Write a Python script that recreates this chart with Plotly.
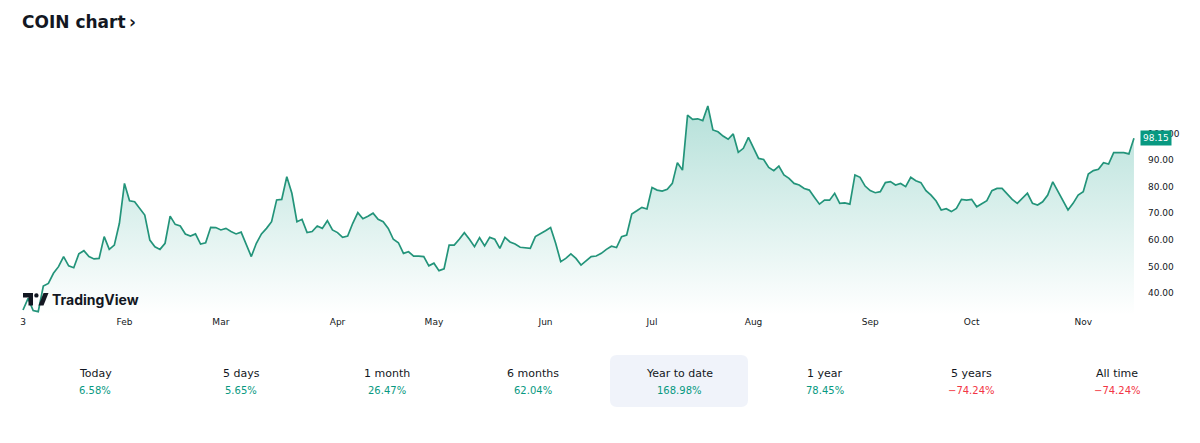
import pandas as pd
import plotly.graph_objects as go

# ---------------- data ----------------
holidays = ["2023-01-16", "2023-02-20", "2023-04-07", "2023-05-29",
            "2023-06-19", "2023-07-04", "2023-09-04"]
dates = [d.strftime("%Y-%m-%d") for d in pd.bdate_range("2023-01-03", "2023-11-15")
         if d.strftime("%Y-%m-%d") not in holidays]

close = [
    33.6, 38.0, 33.4, 33.0,
    42.6, 43.6, 47.4, 49.9, 53.7, 50.2, 49.5, 54.7, 55.9, 53.7,
    52.8, 53.0, 61.2, 56.4, 58.0, 66.2, 81.2, 74.7, 74.3, 71.8,
    69.3, 59.9, 57.4, 56.4, 58.7, 68.9, 65.8, 65.2, 62.2, 61.4,
    62.2, 58.4, 58.9, 64.7, 64.6, 63.7, 64.3, 63.1, 62.2, 62.9,
    58.0, 53.7, 58.7, 62.2, 64.3, 66.8, 75.0, 75.2, 83.7, 77.5,
    66.8, 67.7, 62.7, 63.1, 65.2, 64.3, 67.2, 63.7, 62.7, 60.9,
    61.4, 66.2, 70.2, 67.9, 68.9, 70.0, 67.7, 66.8, 64.3, 60.2,
    58.9, 54.9, 55.5, 53.9, 53.9, 53.7, 50.2, 51.2, 48.4, 49.1,
    58.0, 58.0, 60.2, 62.7, 60.2, 57.4, 60.8, 57.7, 60.9, 60.2,
    56.8, 60.9, 59.2, 58.4, 57.2, 57.0, 56.8, 61.2, 62.2, 63.4, 64.6,
    58.7, 51.8, 53.0, 54.7, 53.0, 50.5, 52.2, 53.7, 53.9, 54.9,
    56.4, 57.6, 57.1, 61.2, 61.8, 69.7, 70.9, 72.2, 71.6, 79.7,
    78.7, 78.3, 79.0, 81.2, 89.0, 86.2, 106.9, 105.3, 105.5, 104.8,
    110.3, 101.3, 100.6, 99.0, 97.8, 99.8, 92.9, 94.4, 98.5, 94.7,
    90.6, 90.2, 87.2, 86.0, 87.7, 84.4, 83.1, 81.2, 80.6, 79.3,
    78.7, 76.0, 73.4, 74.9, 74.9, 77.5, 73.7, 73.9, 73.4, 84.4, 83.5,
    80.2, 78.5, 77.7, 78.1, 81.5,
    81.9, 80.6, 81.2, 80.0, 83.5, 82.2, 81.5, 78.5, 76.8, 74.6,
    71.2, 71.7, 70.6, 71.8, 75.2, 74.9, 75.2, 72.4, 73.4, 74.7,
    78.5, 79.3, 79.3, 77.2, 75.2, 73.7, 75.6, 77.5, 73.7, 73.1,
    74.3, 76.8, 81.8, 78.1, 74.3, 71.2, 73.7, 76.8, 78.1, 84.7,
    86.0, 86.5, 89.0, 88.5, 92.8, 92.9, 92.8, 92.3, 98.15,
]

month_labels = ["3", "Feb", "Mar", "Apr", "May", "Jun", "Jul", "Aug", "Sep", "Oct", "Nov"]
y_ticks = [40, 50, 60, 70, 80, 90, 100]

period_labels = ["Today", "5 days", "1 month", "6 months", "Year to date", "1 year", "5 years", "All time"]
period_values = [6.58, 5.65, 26.47, 62.04, 168.98, 78.45, -74.24, -74.24]
selected_period = "Year to date"

# ---------------- layout helpers ----------------
W, H = 1200, 443
L, R, T, B = 22, 63, 60, 128
PW, PH = W - L - R, H - T - B


def px(x):
    return (x - L) / PW


def py(y):
    return (H - B - y) / PH


# first trading day of each month
month_first = []
seen = set()
for d in dates:
    m = d[:7]
    if m not in seen:
        seen.add(m)
        month_first.append(d)

GREEN = "#089981"
LINE = "#23947a"
RED = "#f23645"
TXT = "#131722"

fig = go.Figure()
fig.add_trace(go.Scatter(
    x=dates, y=close, mode="lines",
    line=dict(color=LINE, width=1.7),
    fill="tozeroy",
    fillgradient=dict(type="vertical", start=31.7, stop=110.5,
                      colorscale=[[0, "rgba(8,153,129,0.0)"],
                                  [1, "rgba(8,153,129,0.3)"]]),
    hoverinfo="skip", showlegend=False,
))

n = len(close)
fig.update_xaxes(type="category", range=[-0.2, n - 1 + 0.6], automargin=False,
                 tickmode="array", tickvals=month_first, ticktext=month_labels,
                 showgrid=False, zeroline=False, showline=False, ticks="",
                 tickfont=dict(family="DejaVu Sans", size=9, color=TXT))
fig.update_yaxes(side="right", range=[31.73, 127.6], tickmode="array", automargin=False,
                 tickvals=y_ticks, tickformat=".2f", showgrid=False,
                 zeroline=False, showline=False, ticks="", ticklabelstandoff=10,
                 tickfont=dict(family="DejaVu Sans", size=9, color=TXT))

shapes = []
annotations = []

# last price label
annotations.append(dict(xref="paper", yref="y", x=px(1140), y=close[-1],
                        xanchor="left", yanchor="middle", showarrow=False,
                        text=f"{close[-1]:.2f}", bgcolor=GREEN, borderpad=2,
                        font=dict(family="DejaVu Sans", size=9, color="white")))

# TradingView watermark
logo_left = "M23,293 L33,293 L33,305.5 L28.5,305.5 L28.5,297.5 L23,297.5 Z"
logo_right = "M38.5,305.5 L43.5,293 L48.5,293 L43.5,305.5 Z"


def conv(path):
    out = []
    for tok in path.split():
        if tok[0] in "MLZ" and len(tok) == 1:
            out.append(tok)
            continue
        cmd = tok[0] if tok[0] in "ML" else ""
        xy = tok[len(cmd):].split(",")
        out.append(f"{cmd}{px(float(xy[0])):.5f},{py(float(xy[1])):.5f}")
    return " ".join(out)


shapes.append(dict(type="path", xref="paper", yref="paper", path=conv(logo_left),
                   fillcolor=TXT, line=dict(width=0)))
shapes.append(dict(type="path", xref="paper", yref="paper", path=conv(logo_right),
                   fillcolor=TXT, line=dict(width=0)))
shapes.append(dict(type="circle", xref="paper", yref="paper",
                   x0=px(34.2), x1=px(38.6), y0=py(297.6), y1=py(293.2),
                   fillcolor=TXT, line=dict(width=0)))
annotations.append(dict(xref="paper", yref="paper", x=px(50), y=py(299),
                        xanchor="left", yanchor="middle", showarrow=False,
                        text="<b>TradingView</b>",
                        font=dict(family="Inter", size=14, color=TXT)))

# period performance row
col_w = 146
x0c = 95
for i, (lab, val) in enumerate(zip(period_labels, period_values)):
    cx = x0c + i * col_w
    if lab == selected_period:
        bx0, bx1, by0, by1, r = cx - 69, cx + 69, 355, 407, 7
        rx, ry = r / PW, r / PH
        X0, X1, Y0, Y1 = px(bx0), px(bx1), py(by1), py(by0)
        path = (f"M{X0+rx},{Y0} L{X1-rx},{Y0} Q{X1},{Y0} {X1},{Y0+ry} "
                f"L{X1},{Y1-ry} Q{X1},{Y1} {X1-rx},{Y1} L{X0+rx},{Y1} "
                f"Q{X0},{Y1} {X0},{Y1-ry} L{X0},{Y0+ry} Q{X0},{Y0} {X0+rx},{Y0} Z")
        shapes.append(dict(type="path", xref="paper", yref="paper", path=path,
                           fillcolor="#f0f3fa", line=dict(width=0), layer="below"))
    annotations.append(dict(xref="paper", yref="paper", x=px(cx), y=py(373),
                            xanchor="center", yanchor="middle", showarrow=False,
                            text=lab, font=dict(family="DejaVu Sans", size=11, color=TXT)))
    sign = "\u2212" if val < 0 else ""
    annotations.append(dict(xref="paper", yref="paper", x=px(cx), y=py(390),
                            xanchor="center", yanchor="middle", showarrow=False,
                            text=f"{sign}{abs(val):.2f}%",
                            font=dict(family="DejaVu Sans", size=10,
                                      color=GREEN if val >= 0 else RED)))

fig.update_layout(
    width=W, height=H,
    margin=dict(l=L, r=R, t=T, b=B, pad=0, autoexpand=False),
    paper_bgcolor="white", plot_bgcolor="white",
    title=dict(text="<b>COIN chart\u2009\u203a</b>", xref="container", yref="container",
               x=L / W, xanchor="left", y=1 - 22 / H, yanchor="middle",
               font=dict(family="DejaVu Sans", size=17, color=TXT)),
    shapes=shapes, annotations=annotations,
)

fig.write_html("out.html")
